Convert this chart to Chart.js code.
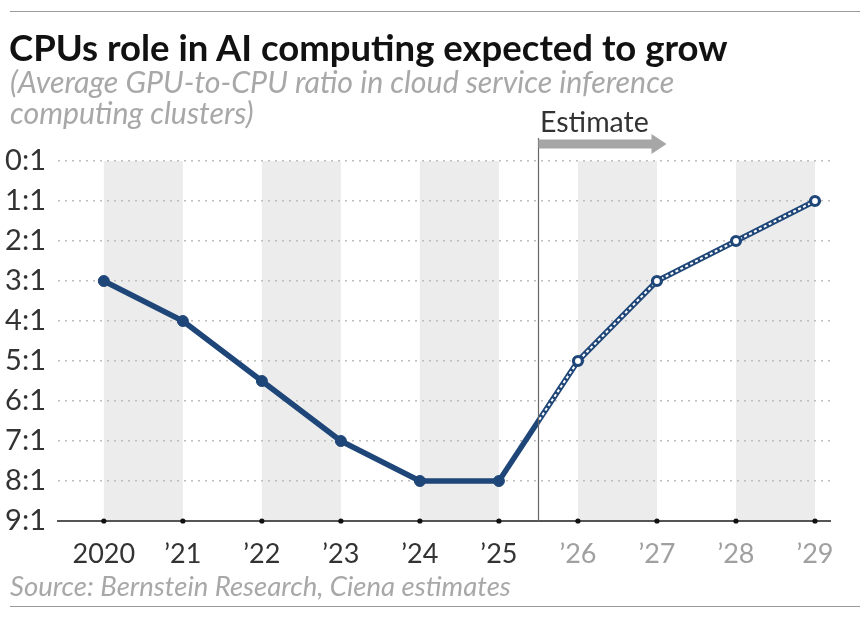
<!DOCTYPE html>
<html>
<head>
<meta charset="utf-8">
<script src="https://cdn.jsdelivr.net/npm/chart.js@4"></script>
<style>
  html, body { margin: 0; padding: 0; background: #fff; }
  #wrap { position: relative; width: 865px; height: 622px; overflow: hidden; font-family: Lato, "Open Sans", sans-serif; }
  canvas { position: absolute; left: 0; top: 0; }
  .rule { position: absolute; left: 10px; width: 850px; height: 0; border-top: 1.5px solid #9a9a9a; }
  #title { position: absolute; left: 9px; top: 26px; font-size: 36.5px; font-weight: 700; color: #111; line-height: 42px; white-space: nowrap; }
  #sub { position: absolute; left: 10px; top: 66px; font-size: 30.3px; font-style: italic; color: #a8a8a8; line-height: 31px; white-space: nowrap; }
  #est { position: absolute; left: 540px; top: 104px; font-size: 28.5px; color: #333; line-height: 34px; }
  #source { position: absolute; left: 10px; top: 571px; font-size: 27.5px; font-style: italic; color: #a8a8a8; line-height: 30px; white-space: nowrap; }
</style>
</head>
<body>
<div id="wrap">
  <canvas id="chart" width="865" height="622"></canvas>
  <div class="rule" style="top:11px"></div>
  <div id="title">CPUs role in AI computing expected to grow</div>
  <div id="sub">(Average GPU-to-CPU ratio in cloud service inference<br>computing clusters)</div>
  <div id="est">Estimate</div>
  <div id="source">Source: Bernstein Research, Ciena estimates</div>
  <div class="rule" style="top:606px"></div>
</div>
<script>
// GPU-to-CPU ratio (x:1), years
const years = ['2020', '\u201921', '\u201922', '\u201923', '\u201924', '\u201925', '\u201926', '\u201927', '\u201928', '\u201929'];
const ratio = [3, 4, 5.5, 7, 8, 8, 5, 3, 2, 1];
const firstEstimate = 6;      // '26 onwards are estimates
const estimateStart = 5.5;    // where the "Estimate" line sits
const yTicks = [0, 1, 2, 3, 4, 5, 6, 7, 8, 9];

const navy = '#1e4678';
const points = ratio.map((v, i) => ({ x: i, y: v }));

const bandsAndMarks = {
  id: 'bandsAndMarks',
  beforeDraw(chart) {
    const { ctx, chartArea: a, scales: { x } } = chart;
    ctx.save();
    ctx.fillStyle = '#ececec';
    for (let i = 0; i < years.length - 1; i += 2) {
      const x0 = x.getPixelForValue(i), x1 = x.getPixelForValue(i + 1);
      ctx.fillRect(x0, a.top, x1 - x0, a.bottom - a.top);
    }
    ctx.restore();
  },
  beforeDatasetDraw(chart, args) {
    if (args.index !== 1) return;
    const { ctx, scales: { x } } = chart;
    const xe = x.getPixelForValue(estimateStart);
    ctx.save();
    ctx.beginPath();
    ctx.rect(xe, 0, chart.width - xe, chart.height);
    ctx.clip();
  },
  afterDatasetDraw(chart, args) {
    if (args.index === 1) chart.ctx.restore();
  },
  afterDraw(chart) {
    const { ctx, chartArea: a, scales: { x } } = chart;
    ctx.save();
    // tick dots
    ctx.fillStyle = '#111';
    years.forEach((_, i) => {
      ctx.beginPath();
      ctx.arc(x.getPixelForValue(i), a.bottom, 2.6, 0, Math.PI * 2);
      ctx.fill();
    });
    // estimate line + arrow
    const xe = Math.round(x.getPixelForValue(estimateStart)) + 0.5;
    ctx.strokeStyle = '#666';
    ctx.lineWidth = 1.2;
    ctx.beginPath();
    ctx.moveTo(xe, 138);
    ctx.lineTo(xe, a.bottom);
    ctx.stroke();
    ctx.fillStyle = '#a6a6a6';
    ctx.fillRect(xe, 139.5, 115, 9);
    ctx.beginPath();
    ctx.moveTo(xe + 113, 134);
    ctx.lineTo(xe + 128, 144);
    ctx.lineTo(xe + 113, 154);
    ctx.closePath();
    ctx.fill();
    ctx.restore();
  }
};

new Chart(document.getElementById('chart'), {
  type: 'line',
  data: {
    datasets: [
      {
        data: points, borderColor: navy, borderWidth: 5.5, pointRadius: 0,
        borderJoinStyle: 'round', order: 3
      },
      {
        data: points, borderColor: '#fff', borderWidth: 2, borderDash: [3, 2.5],
        pointRadius: 0, order: 2
      },
      {
        data: points, showLine: false, order: 1,
        pointRadius: ratio.map((_, i) => i < firstEstimate ? 5.5 : 4.5),
        pointBorderWidth: ratio.map((_, i) => i < firstEstimate ? 1 : 3.2),
        pointBackgroundColor: ratio.map((_, i) => i < firstEstimate ? navy : '#fff'),
        pointBorderColor: navy
      }
    ]
  },
  options: {
    responsive: false,
    animation: false,
    layout: { padding: { top: 161, right: 35, left: 0, bottom: 0 } },
    plugins: { legend: { display: false }, tooltip: { enabled: false } },
    scales: {
      x: {
        type: 'linear', min: -0.58, max: 9.19,
        afterFit: s => { s.height = 101; },
        afterBuildTicks: s => { s.ticks = years.map((_, i) => ({ value: i })); },
        grid: { display: false },
        border: { display: true, color: '#555', width: 2 },
        ticks: {
          padding: 9, font: { family: 'Lato', size: 27 },
          color: c => c.index < firstEstimate ? '#333' : '#a0a0a0',
          callback: v => years[v]
        }
      },
      y: {
        reverse: true, min: 0, max: 9,
        afterFit: s => { s.width = 58; },
        afterBuildTicks: s => { s.ticks = yTicks.map(v => ({ value: v })); },
        border: { display: false, dash: [2, 5] },
        grid: {
          color: c => c.tick.value === 9 ? 'rgba(0,0,0,0)' : '#bdbdbd',
          lineWidth: 1.5, drawTicks: false
        },
        ticks: {
          padding: 12, font: { family: 'Lato', size: 29 }, color: '#333',
          callback: v => v + ':1'
        }
      }
    }
  },
  plugins: [bandsAndMarks]
});
</script>
</body>
</html>
